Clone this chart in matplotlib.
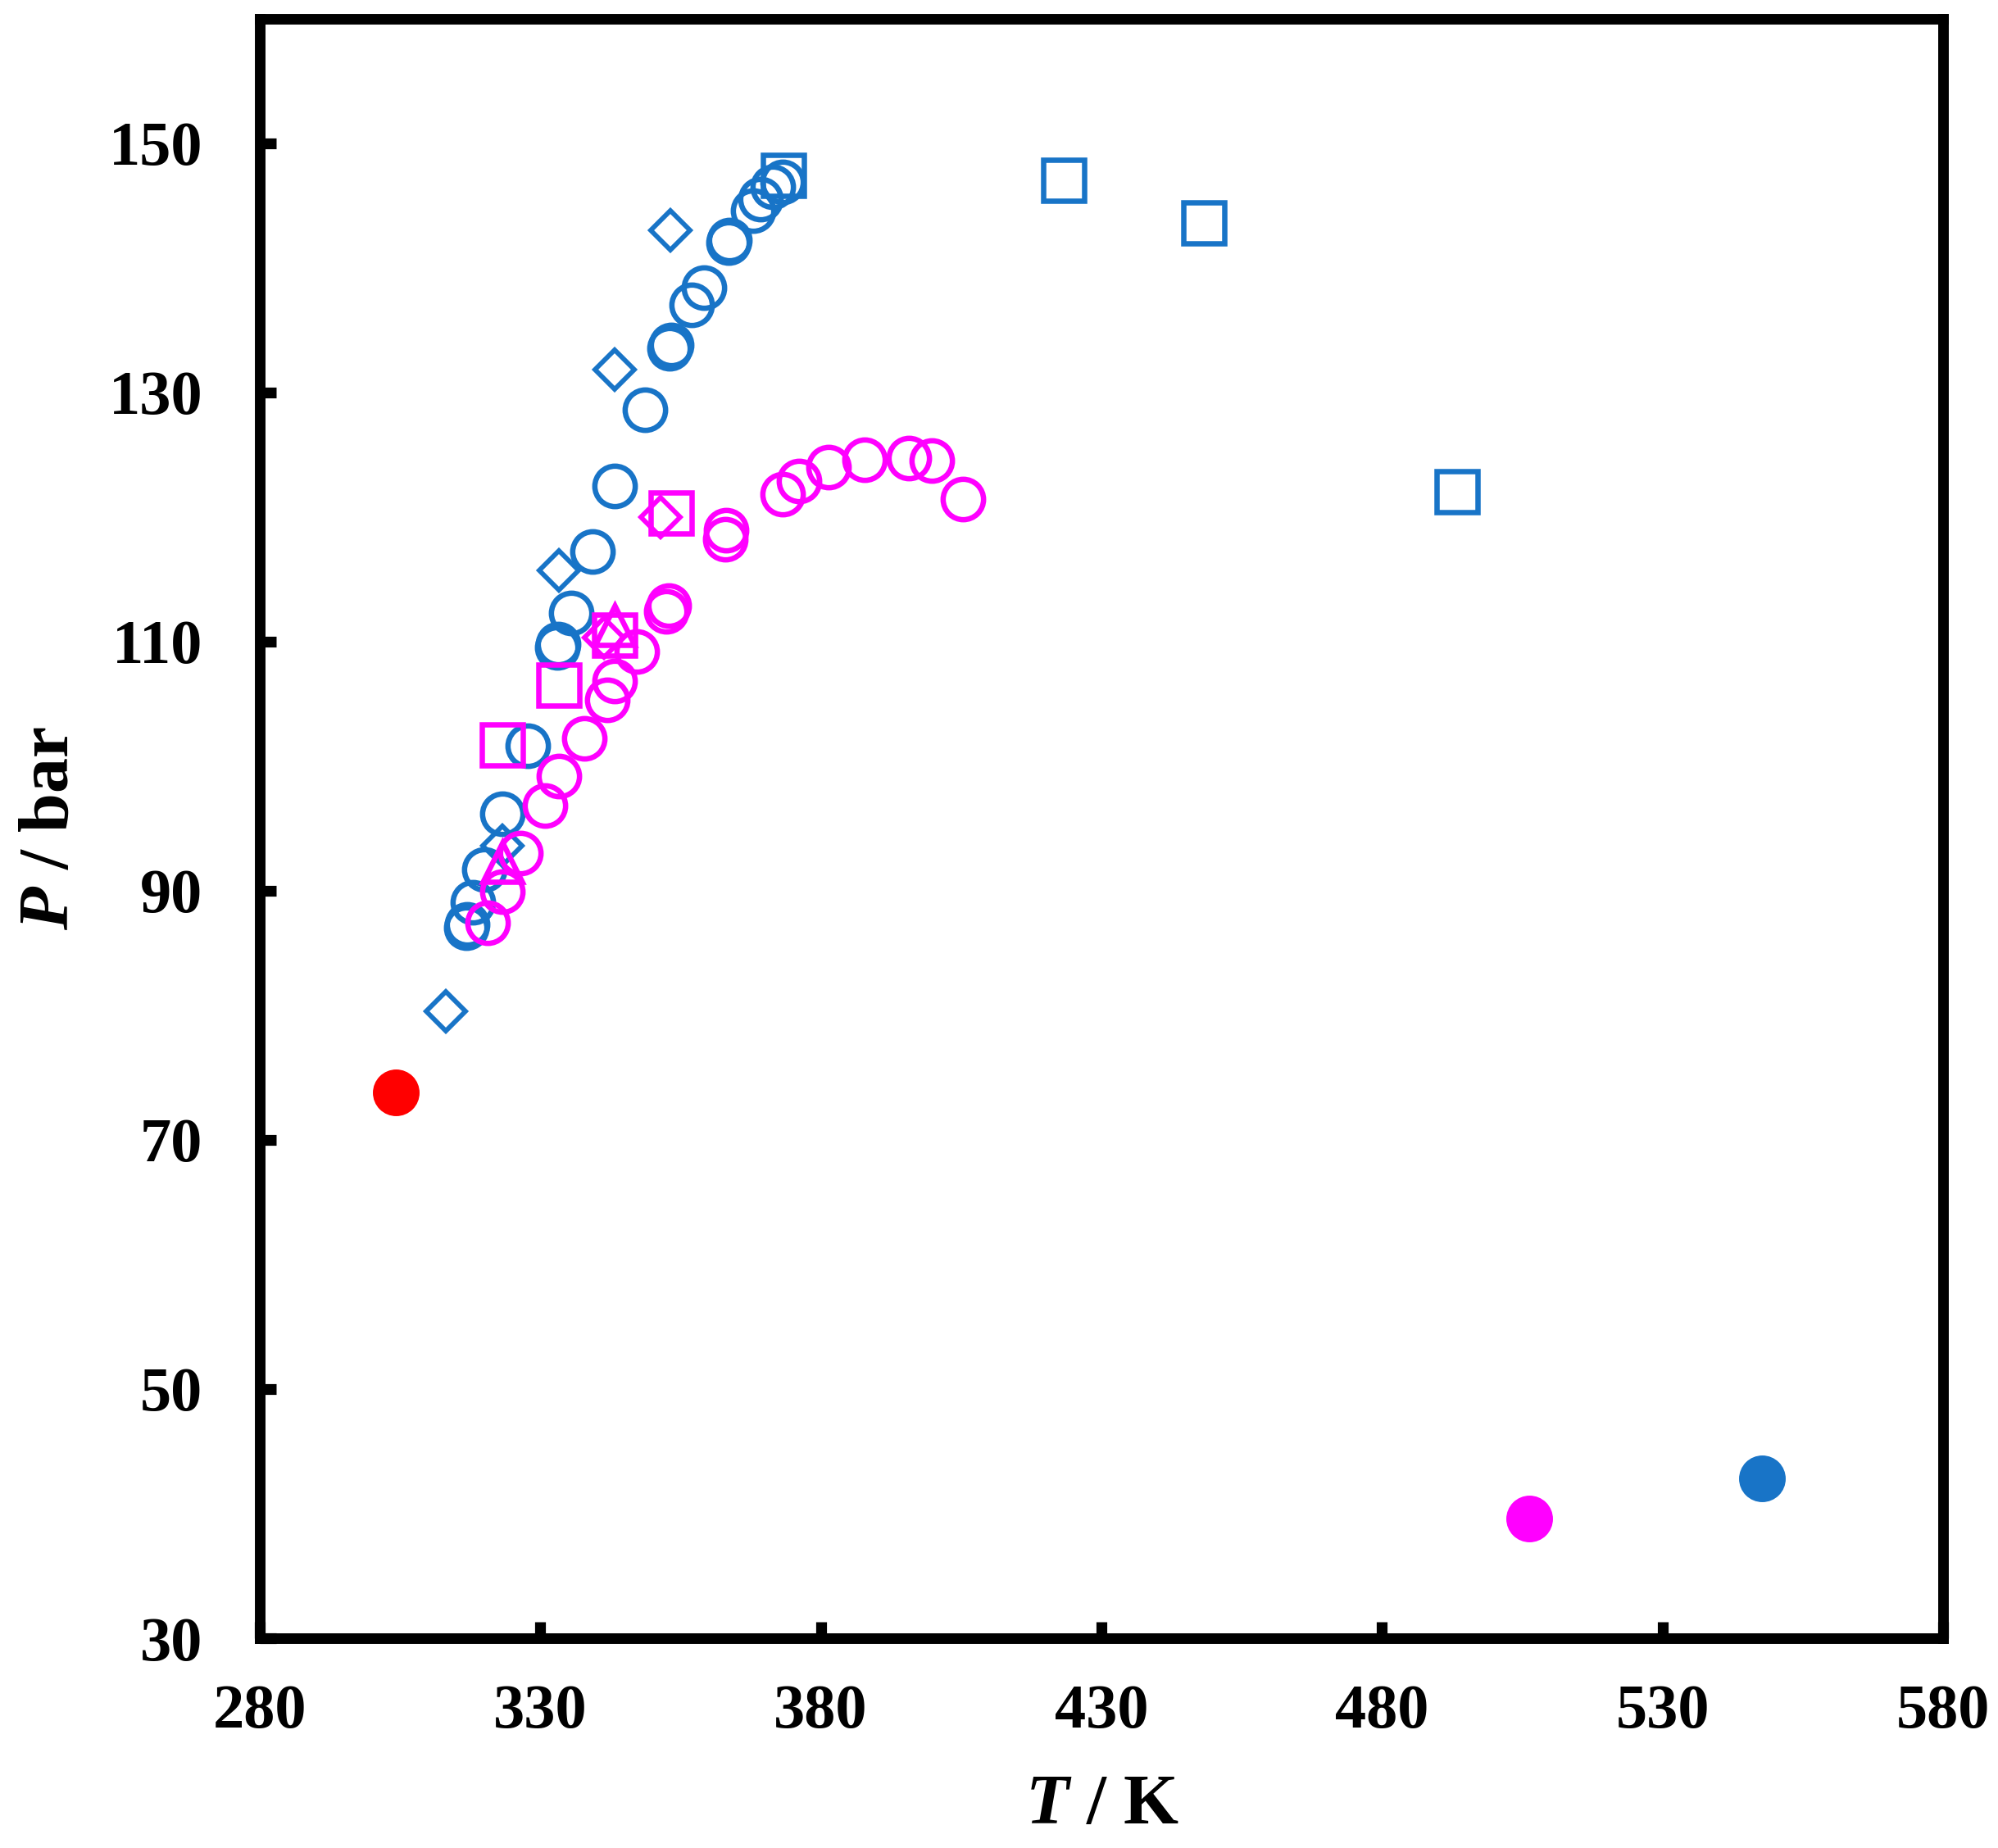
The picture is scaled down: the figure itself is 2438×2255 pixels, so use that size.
import numpy as np
import matplotlib
matplotlib.use("Agg")
import matplotlib.pyplot as plt

plt.rcParams['font.family'] = ['Liberation Serif', 'DejaVu Serif']
plt.rcParams['font.weight'] = 'bold'
plt.rcParams['mathtext.fontset'] = 'custom'
plt.rcParams['mathtext.rm'] = 'Liberation Serif:bold'
plt.rcParams['mathtext.it'] = 'Liberation Serif:italic:bold'

BLUE = '#1874C7'
MAGENTA = '#FF00FF'
RED = '#FF0000'

# blue series (T / K, P / bar)
blue_circ_T = [317.0, 316.8, 318.0, 320.0, 323.2, 327.7, 333.2, 333.0, 335.5, 339.3, 343.2,
               348.6, 353.3, 353.1, 357.0, 359.2, 363.7, 363.5, 367.9, 369.3, 371.5, 373.2]
blue_circ_P = [87.3, 87.0, 89.1, 91.7, 96.2, 101.6, 109.8, 109.5, 112.3, 117.2, 122.5,
               128.6, 133.8, 133.5, 137.0, 138.4, 142.2, 142.0, 144.6, 145.5, 146.5, 146.9]
blue_diam_T = [313.2, 323.3, 333.3, 343.3, 353.2]
blue_diam_P = [80.3, 93.6, 115.7, 131.8, 143.0]
blue_sq_T = [373.3, 423.3, 448.3, 493.4]
blue_sq_P = [147.4, 147.0, 143.6, 122.0]

# magenta series
mag_circ_T = [320.6, 323.3, 326.5, 330.8, 333.3, 337.9, 342.0, 343.2, 347.2, 352.9, 352.4,
              363.1, 362.9, 373.2, 376.1, 381.3, 387.8, 395.7, 399.8, 405.3]
mag_circ_P = [87.4, 89.9, 93.0, 96.8, 99.2, 102.2, 105.3, 106.8, 109.2, 112.9, 112.4,
              118.9, 118.2, 121.8, 122.9, 124.0, 124.6, 124.7, 124.5, 121.4]
mag_sq_T = [323.3, 333.3, 343.2, 353.3]
mag_sq_P = [101.7, 106.5, 110.5, 120.3]
mag_diam_T = [341.3, 351.4]
mag_diam_P = [110.3, 120.0]
mag_tri_T = [323.3, 343.2]
mag_tri_P = [92.3, 111.3]

# critical points
crit_T = [304.2, 506.2, 547.8]
crit_P = [73.8, 39.6, 42.8]
crit_c = [RED, MAGENTA, BLUE]

fig = plt.figure(figsize=(24.38, 22.55), dpi=100)
ax = fig.add_axes([0.130, 0.1135, 0.8425, 0.8765])

ms = 35.5
lw = 4.7
ax.plot(blue_circ_T, blue_circ_P, 'o', ms=ms, mfc='none', mec=BLUE, mew=lw, ls='none')
ax.plot(blue_diam_T, blue_diam_P, 'D', ms=24, mfc='none', mec=BLUE, mew=4.2, ls='none')
ax.plot(blue_sq_T, blue_sq_P, 's', ms=ms, mfc='none', mec=BLUE, mew=lw, ls='none')
ax.plot(mag_circ_T, mag_circ_P, 'o', ms=ms, mfc='none', mec=MAGENTA, mew=lw, ls='none')
ax.plot(mag_sq_T, mag_sq_P, 's', ms=ms, mfc='none', mec=MAGENTA, mew=lw, ls='none')
ax.plot(mag_diam_T, mag_diam_P, 'D', ms=24, mfc='none', mec=MAGENTA, mew=4.2, ls='none')
ax.plot(mag_tri_T, mag_tri_P, '^', ms=34, mfc='none', mec=MAGENTA, mew=lw, ls='none')
for t, p, c in zip(crit_T, crit_P, crit_c):
    ax.plot(t, p, 'o', ms=41, mfc=c, mec=c, mew=0, ls='none')

ax.set_xlim(280, 580)
ax.set_ylim(30, 160)
ax.set_xticks(np.arange(280, 581, 50))
ax.set_yticks(np.arange(30, 151, 20))

for s in ax.spines.values():
    s.set_linewidth(9.3)
ax.tick_params(direction='in', length=14.5, width=9.5, labelsize=55)
ax.tick_params(axis='x', pad=40)
ax.tick_params(axis='y', pad=50)
for lab in ax.get_xticklabels() + ax.get_yticklabels():
    lab.set_fontweight('bold')

fig.text(0.5517, 0.0222, r'$\mathit{T}$ / K', fontsize=62, fontweight='bold',
         ha='center', va='center')
fig.text(0.0254, 0.552, r'$\mathit{P}$ / bar', fontsize=62, fontweight='bold',
         ha='center', va='center', rotation=90)

fig.savefig('out.png', dpi=100)
